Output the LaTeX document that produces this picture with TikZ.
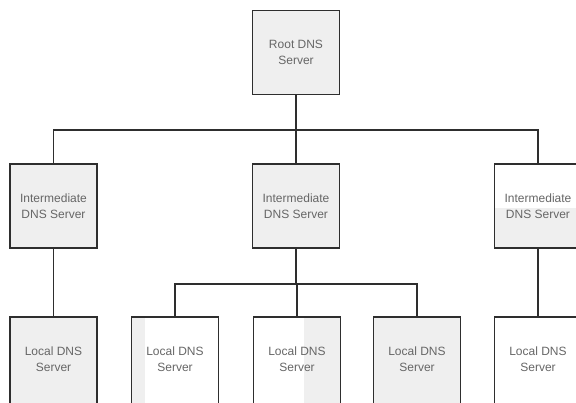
\documentclass[tikz,border=0pt]{standalone}
\usepackage{fontspec}
\setmainfont{Liberation Sans}
\definecolor{edge}{HTML}{2E2E2E}
\definecolor{greyfill}{HTML}{EFEFEF}
\definecolor{label}{HTML}{666666}
\begin{document}
\begin{tikzpicture}[x=1pt,y=-1pt,
  server/.style={draw=edge, line width=1.7pt, fill=white, minimum width=87pt,
    inner sep=0pt, text=label, align=center,
    font=\fontsize{12}{16}\selectfont},
  upper/.style={server, minimum height=84pt},
  lower/.style={server, minimum height=96pt, text depth=12pt},
  link/.style={draw=edge, line width=1.7pt},
  leftband/.style={path picture={\fill[greyfill] (path picture bounding box.north west) rectangle ([xshift=13pt]path picture bounding box.south west);}},
  rightband/.style={path picture={\fill[greyfill] ([xshift=-37pt]path picture bounding box.north east) rectangle (path picture bounding box.south east);}},
  lowerhalf/.style={path picture={\fill[greyfill] ([yshift=-44pt]path picture bounding box.north west) rectangle (path picture bounding box.south east);}}
]
\useasboundingbox (0,0) rectangle (576,403);
\clip (0,0) rectangle (576,403);

% root of the hierarchy
\node[upper, fill=greyfill] (root) at (296,52.5) {Root DNS\\Server};

% intermediate servers
\node[upper, fill=greyfill] (imA) at (53.5,206) {Intermediate\\DNS Server};
\node[upper, fill=greyfill] (imB) at (296,206) {Intermediate\\DNS Server};
\node[upper, lowerhalf] (imC) at (538,206) {Intermediate\\DNS Server};

% local servers
\node[lower, fill=greyfill] (locA) at (53.5,365) {Local DNS\\Server};
\node[lower, leftband] (locB) at (175,365) {Local DNS\\Server};
\node[lower, rightband] (locC) at (297,365) {Local DNS\\Server};
\node[lower, fill=greyfill] (locD) at (417,365) {Local DNS\\Server};
\node[lower] (locE) at (538,365) {Local DNS\\Server};

% bus junctions
\coordinate (bus1) at (296,130);
\coordinate (bus2) at (296,284);

% root to intermediates
\draw[link] (root.south) -- (bus1);
\draw[link] (imA.north) |- (bus1) -| (imC.north);
\draw[link] (bus1) -- (imB.north);

% intermediates to locals
\draw[link] (imA.south) -- (locA.north);
\draw[link] (imB.south) -- (bus2);
\draw[link] (locB.north) |- (bus2) -| (locD.north);
\draw[link] (bus2) -- (bus2 -| locC.north) -- (locC.north);
\draw[link] (imC.south) -- (locE.north);
\end{tikzpicture}
\end{document}
